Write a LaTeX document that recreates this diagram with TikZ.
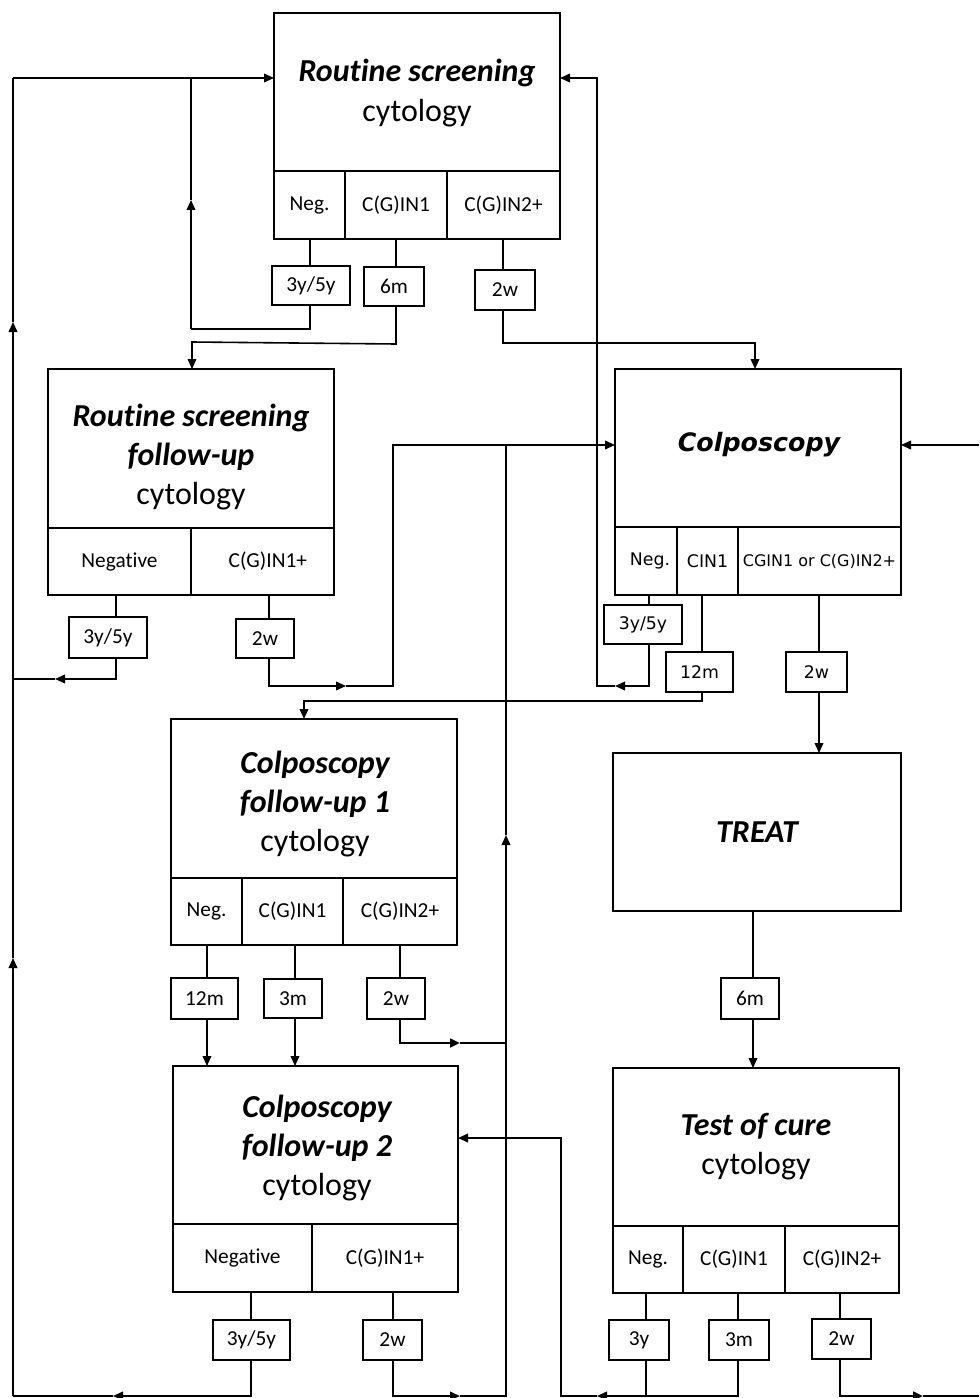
\documentclass[tikz,border=0pt]{standalone}
\usepackage{fontspec}
\setmainfont{Carlito}[Ligatures=NoCommon]
\newfontfamily\dvsans{DejaVu Sans}[BoldFont={DejaVu Sans Bold},ItalicFont={DejaVu Sans Oblique},BoldItalicFont={DejaVu Sans Bold Oblique}]
\usetikzlibrary{arrows.meta}

\newcommand\cellfont{\fontsize{16}{19}\selectfont}
\newcommand\dvcell{\dvsans\fontsize{13}{16}\selectfont}
\newcommand\ttlb[1]{{\bfseries\itshape #1}}

% framed box from (x1,y1) to (x2,y2), pixel units
\newcommand\boxat[7][]{%
  \node[frame,#1,minimum width={(#5-#3)*0.75pt},minimum height={(#6-#4)*0.75pt}] (#2) at (#3,#4) {#7};}
% short vertical link from a result cell down to its interval box
\newcommand\stub[3]{\draw[conn] (#1,0 |- #2.south) -- (#1,0 |- #3.north);}

\tikzset{
  frame/.style={draw,line width=1.4pt,anchor=north west,inner sep=0pt,outer sep=0pt,align=center,font=\cellfont},
  ttl/.style={align=center,inner sep=0pt,font=\fontsize{24}{29.3}\selectfont},
  coTtl/.style={inner sep=0pt,font=\dvsans\fontsize{19}{23}\selectfont\bfseries\itshape},
  conn/.style={line width=1.2pt},
  heavy/.style={line width=1.9pt},
  arr/.style={conn,-{Triangle[length=7.5pt,width=6.5pt]}},
}

\begin{document}
\begin{tikzpicture}[x=0.75pt,y=-0.75pt]
\useasboundingbox (0,0) rectangle (979,1398);
\fill[white] (0,0) rectangle (979,1398);

% ---------- Routine screening ----------
\boxat{rs}{274}{13}{560}{171}{}
\boxat{rsNeg}{274}{171}{345}{239}{Neg.}
\boxat{rsC1}{345}{171}{447}{239}{C(G)IN1}
\boxat{rsC2}{447}{171}{560}{239}{C(G)IN2+}
\boxat{rsT1}{272}{266}{350}{305}{3y/5y}
\boxat{rsT2}{364}{267}{424}{306}{6m}
\boxat{rsT3}{475}{270}{535}{310}{2w}
\node[ttl] (rsTxt) at (417,93) {\ttlb{Routine screening}\\cytology};

% ---------- Routine screening follow-up ----------
\boxat{fu}{48}{369}{334}{528}{}
\boxat{fuNeg}{48}{528}{191}{595}{Negative}
\boxat{fuPos}{191}{528}{334}{595}{\hspace*{8pt}C(G)IN1+}
\boxat{fuT1}{69}{617}{147}{658}{3y/5y}
\boxat{fuT2}{236}{619}{294}{658}{2w}
\node[ttl] (fuTxt) at (191,457) {\ttlb{Routine screening}\\\ttlb{follow-up}\\cytology};

% ---------- Colposcopy ----------
\boxat{co}{615}{369}{901}{527}{}
\boxat[font=\dvcell]{coNeg}{615}{527}{677}{595}{\hspace*{6pt}Neg.}
\boxat[font=\dvcell]{coC1}{677}{527}{738}{595}{CIN1}
\boxat[font=\dvsans\fontsize{12}{14}\selectfont]{coC2}{738}{527}{901}{595}{CGIN1 or C(G)IN2+}
\boxat[font=\dvcell]{coT1}{604}{605}{682}{644}{3y/5y}
\boxat[font=\dvcell]{coT2}{666}{652}{733}{692}{12m}
\boxat[font=\dvcell]{coT3}{786}{652}{847}{692}{2w}
\node[coTtl] (coTxt) at (759,445) {Colposcopy};

% ---------- Colposcopy follow-up 1 ----------
\boxat{c1}{171}{719}{457}{878}{}
\boxat{c1Neg}{171}{878}{242}{945}{Neg.}
\boxat{c1C1}{242}{878}{343}{945}{C(G)IN1}
\boxat{c1C2}{343}{878}{457}{945}{C(G)IN2+}
\boxat{c1T1}{171}{978}{238}{1019}{12m}
\boxat{c1T2}{264}{979}{322}{1018}{3m}
\boxat{c1T3}{367}{978}{425}{1019}{2w}
\node[ttl] (c1Txt) at (315,804) {\ttlb{Colposcopy}\\\ttlb{follow-up 1}\\cytology};

% ---------- Colposcopy follow-up 2 ----------
\boxat{c2}{173}{1066}{458}{1224}{}
\boxat{c2Neg}{173}{1224}{312}{1292}{Negative}
\boxat{c2Pos}{312}{1224}{458}{1292}{C(G)IN1+}
\boxat{c2T1}{213}{1320}{290}{1360}{3y/5y}
\boxat{c2T2}{363}{1320}{422}{1360}{2w}
\node[ttl] (c2Txt) at (317,1148) {\ttlb{Colposcopy}\\\ttlb{follow-up 2}\\cytology};

% ---------- Treatment ----------
\boxat{tr}{613}{753}{901}{911}{}
\boxat{trT}{721}{978}{779}{1019}{6m}
\node[ttl] (trTxt) at (757,832) {\ttlb{TREAT}};

% ---------- Test of cure ----------
\boxat{tc}{613}{1068}{899}{1226}{}
\boxat{tcNeg}{613}{1226}{683}{1293}{Neg.}
\boxat{tcC1}{683}{1226}{785}{1293}{C(G)IN1}
\boxat{tcC2}{785}{1226}{899}{1293}{C(G)IN2+}
\boxat{tcT1}{609}{1320}{669}{1360}{3y}
\boxat{tcT2}{709}{1320}{769}{1360}{3m}
\boxat{tcT3}{812}{1319}{871}{1359}{2w}
\node[ttl] (tcTxt) at (756,1147) {\ttlb{Test of cure}\\cytology};

% ---------- bend points ----------
\coordinate (trL) at (13,78);
\coordinate (tB) at (13,322);
\coordinate (tA) at (13,958);
\coordinate (bL) at (13,1396);
\coordinate (bLm) at (113,1396);
\coordinate (kA) at (191,329);
\coordinate (kAm) at (191,200);
\coordinate (kAt) at (191,78);
\coordinate (sA) at (396,344);
\coordinate (sB) at (192,342);
\coordinate (wB) at (755,343);
\coordinate (rA) at (615,686);
\coordinate (rB) at (597,686);
\coordinate (rC) at (597,78);
\coordinate (fA) at (55,679);
\coordinate (gA) at (346,686);
\coordinate (gB) at (393,686);
\coordinate (gC) at (393,445);
\coordinate (eR) at (979,445);
\coordinate (hA) at (304,701);
\coordinate (mA) at (460,1396);
\coordinate (mB) at (506,1396);
\coordinate (mU) at (506,835);
\coordinate (mT) at (506,445);
\coordinate (nA) at (460,1043);
\coordinate (qA) at (597,1396);
\coordinate (qB) at (561,1396);
\coordinate (qC) at (561,1138);
\coordinate (pA) at (923,1396);
\coordinate (pE) at (979,1396);

% ---------- routine screening results ----------
\stub{310}{rsNeg}{rsT1}
\stub{396}{rsC1}{rsT2}
\stub{503}{rsC2}{rsT3}
\draw[conn] (310,0 |- rsT1.south) |- (kA);
\draw[arr] (kA) -- (kAm);
\draw[conn] (kAm) -- (kAt);
\draw[arr] (396,0 |- rsT2.south) -- (sA) -- (sB) -- (sB |- fu.north);
\draw[arr] (503,0 |- rsT3.south) |- (wB) -- (wB |- co.north);

% left return trunk into routine screening
\draw[arr] (trL) -- (rs.west |- trL);
\draw[arr] (251,0 |- c2T1.south) |- (bLm);
\draw[conn] (bLm) -- (bL);
\draw[arr] (bL) -- (tA);
\draw[arr] (tA) -- (tB);
\draw[conn] (tB) -- (trL);

% ---------- routine screening follow-up results ----------
\stub{116}{fuNeg}{fuT1}
\stub{269}{fuPos}{fuT2}
\draw[arr] (116,0 |- fuT1.south) |- (fA);
\draw[conn] (fA) -- (fA -| trL);
\draw[arr] (269,0 |- fuT2.south) |- (gA);
\draw[arr] (gA) -- (gB) -- (gC) -- (co.west |- gC);

% ---------- colposcopy ----------
\draw[arr] (eR) -- (co.east |- eR);
\stub{649}{coNeg}{coT1}
\stub{702}{coC1}{coT2}
\stub{819}{coC2}{coT3}
\draw[arr] (649,0 |- coT1.south) |- (rA);
\draw[arr] (rA) -- (rB) -- (rC) -- (rs.east |- rC);
\draw[arr] (702,0 |- coT2.south) |- (hA) -- (hA |- c1.north);
\draw[arr] (819,0 |- coT3.south) -- (819,0 |- tr.north);

% middle trunk back into colposcopy
\draw[arr] (mA) -- (mB) -- (mU);
\draw[conn] (mU) -- (mT);

% ---------- colposcopy follow-up 1 ----------
\stub{207}{c1Neg}{c1T1}
\stub{295}{c1C1}{c1T2}
\stub{400}{c1C2}{c1T3}
\draw[arr] (207,0 |- c1T1.south) -- (207,0 |- c2.north);
\draw[arr] (295,0 |- c1T2.south) -- (295,0 |- c2.north);
\draw[arr,heavy] (400,0 |- c1T3.south) |- (nA);
\draw[conn] (nA) -- (nA -| mB);

% ---------- colposcopy follow-up 2 ----------
\stub{251}{c2Neg}{c2T1}
\stub{393}{c2Pos}{c2T2}
\draw[arr] (393,0 |- c2T2.south) |- (mA);

% ---------- treatment ----------
\draw[conn] (753,0 |- tr.south) -- (753,0 |- trT.north);
\draw[arr] (753,0 |- trT.south) -- (753,0 |- tc.north);

% ---------- test of cure ----------
\stub{646}{tcNeg}{tcT1}
\stub{738}{tcC1}{tcT2}
\stub{840}{tcC2}{tcT3}
\draw[conn] (646,0 |- tcT1.south) -- (646,0 |- qA);
\draw[arr] (738,0 |- tcT2.south) |- (qA);
\draw[arr] (qA) -- (qB) -- (qC) -- (c2.east |- qC);
\draw[arr,heavy] (840,0 |- tcT3.south) |- (pA);
\draw[heavy] (pA) -- (pE);
\end{tikzpicture}
\end{document}
